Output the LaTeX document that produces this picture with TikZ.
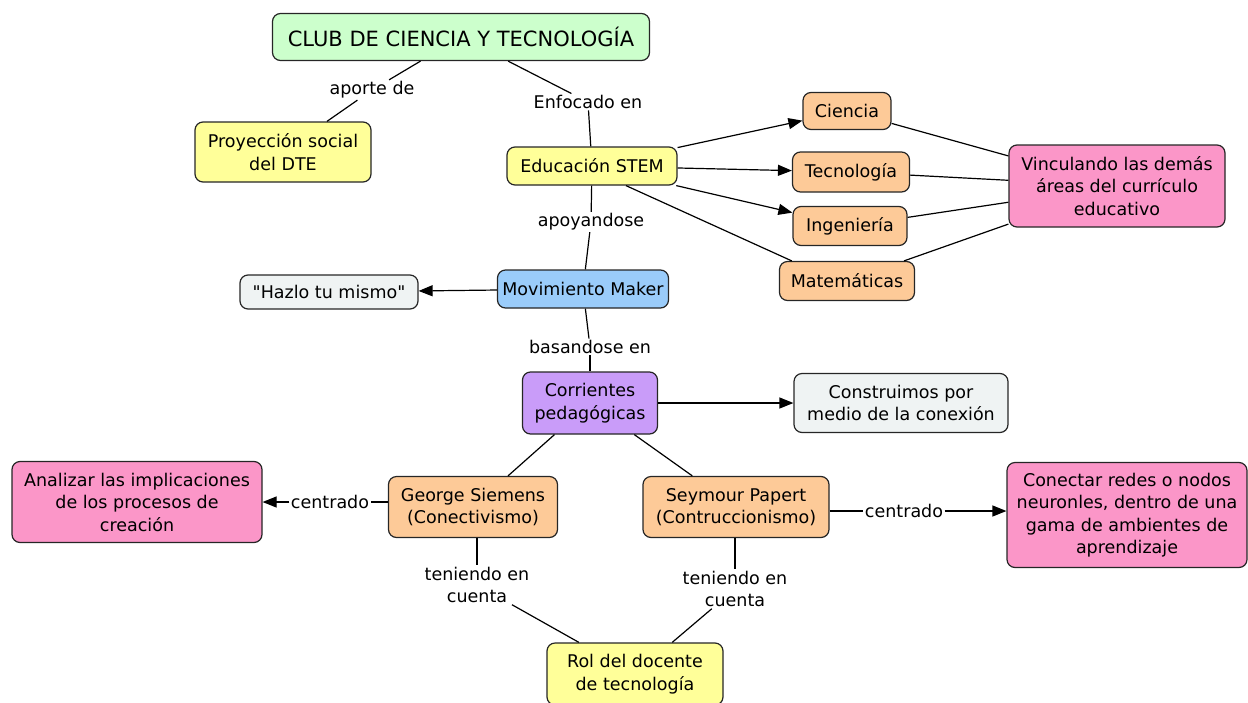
\documentclass[tikz,border=0pt]{standalone}
\usepackage{fontspec}
\setmainfont{DejaVu Sans}
\usetikzlibrary{arrows.meta}
\definecolor{cgreen}{HTML}{CCFFCC}
\definecolor{cyellow}{HTML}{FFFF99}
\definecolor{corange}{HTML}{FDCA98}
\definecolor{cpink}{HTML}{FB96C8}
\definecolor{cblue}{HTML}{9ACCFA}
\definecolor{cpurple}{HTML}{C99CF9}
\definecolor{cgray}{HTML}{EFF3F3}
\begin{document}
\begin{tikzpicture}[x=1pt,y=-1pt,
  box/.style={draw=black!85, line width=1.2pt, rounded corners=8pt, align=center,
    font=\fontsize{17.5}{22.5}\selectfont, inner sep=2pt},
  lbl/.style={font=\fontsize{17.5}{22.5}\selectfont, align=center, inner sep=1.5pt},
  link/.style={line width=1.2pt},
  arr/.style={link, -{Triangle[length=14pt,width=11pt]}}]
\useasboundingbox (0,0) rectangle (1248,702);

% concepts
\node[box, fill=cgreen, minimum width=377pt, minimum height=47pt,
  font=\fontsize{21}{25}\selectfont] (title) at (461,37) {CLUB DE CIENCIA Y TECNOLOGÍA};
\node[box, fill=cyellow, minimum width=176pt, minimum height=60pt] (proy) at (283,152) {Proyección social\\del DTE};
\node[box, fill=cyellow, minimum width=170pt, minimum height=38pt] (stem) at (592,166) {Educación STEM};
\node[box, fill=corange, minimum width=88pt, minimum height=37pt] (cien) at (847,111) {Ciencia};
\node[box, fill=corange, minimum width=117pt, minimum height=40pt] (tec) at (851,172) {Tecnología};
\node[box, fill=corange, minimum width=114pt, minimum height=39pt] (ing) at (850,226) {Ingeniería};
\node[box, fill=corange, minimum width=135pt, minimum height=39pt] (mat) at (847,281) {Matemáticas};
\node[box, fill=cpink, minimum width=216pt, minimum height=82pt] (vinc) at (1117,186) {Vinculando las demás\\áreas del currículo\\educativo};
\node[box, fill=cblue, minimum width=171pt, minimum height=38pt] (maker) at (583,289) {Movimiento Maker};
\node[box, fill=cgray, minimum width=178pt, minimum height=34pt] (hazlo) at (329,292) {{\addfontfeature{Ligatures=TeXOff}"Hazlo tu mismo"}};
\node[box, fill=cpurple, minimum width=135pt, minimum height=62pt] (corr) at (590,403) {Corrientes\\pedagógicas};
\node[box, fill=cgray, minimum width=214pt, minimum height=59pt] (cons) at (901,403) {Construimos por\\medio de la conexión};
\node[box, fill=corange, minimum width=169pt, minimum height=61pt] (geo) at (473,507) {George Siemens\\(Conectivismo)};
\node[box, fill=corange, minimum width=186pt, minimum height=61pt] (sey) at (736,507) {Seymour Papert\\(Contruccionismo)};
\node[box, fill=cpink, minimum width=250pt, minimum height=81pt] (anal) at (137,502) {Analizar las implicaciones\\de los procesos de\\creación};
\node[box, fill=cpink, minimum width=240pt, minimum height=105pt] (conn) at (1127,515) {Conectar redes o nodos\\neuronles, dentro de una\\gama de ambientes de\\aprendizaje};
\node[box, fill=cyellow, minimum width=176pt, minimum height=62pt] (rol) at (635,674) {Rol del docente\\de tecnología};

% linking phrases
\node[lbl] (aporte) at (372,90) {aporte de};
\node[lbl] (enf) at (588,102) {Enfocado en};
\node[lbl] (apoy) at (591,222) {apoyandose};
\node[lbl] (basa) at (590,347) {basandose en};
\node[lbl] (cenL) at (330,502) {centrado};
\node[lbl] (cenR) at (904,511) {centrado};
\node[lbl] (tenL) at (477,585) {teniendo en\\cuenta};
\node[lbl] (tenR) at (735,589) {teniendo en\\cuenta};

% connections
\draw[link] (title) -- (aporte);
\draw[link] (aporte) -- (proy);
\draw[link] (title) -- (enf);
\draw[link] (enf) -- (stem);
\draw[arr] (stem) -- (cien);
\draw[arr] (stem) -- (tec);
\draw[arr] (stem) -- (ing);
\draw[link] (stem.-30) -- (mat.160);
\draw[link] (cien) -- (vinc);
\draw[link] (tec) -- (vinc);
\draw[link] (ing) -- (vinc);
\draw[link] (mat) -- (vinc);
\draw[link] (stem) -- (apoy);
\draw[link] (apoy) -- (maker);
\draw[arr] (maker) -- (hazlo);
\draw[link] (maker) -- (basa);
\draw[link] (basa) -- (corr);
\draw[arr] (corr) -- (cons);
\draw[link] (corr) -- (geo);
\draw[link] (corr) -- (sey);
\draw[link] (geo.west |- cenL) -- (cenL);
\draw[arr] (cenL) -- (cenL -| anal.east);
\draw[link] (sey.east |- cenR) -- (cenR);
\draw[arr] (cenR) -- (cenR -| conn.west);
\draw[link] (geo.south -| tenL) -- (tenL);
\draw[link] (tenL) -- (rol);
\draw[link] (sey.south -| tenR) -- (tenR);
\draw[link] (tenR) -- (rol);
\end{tikzpicture}
\end{document}
